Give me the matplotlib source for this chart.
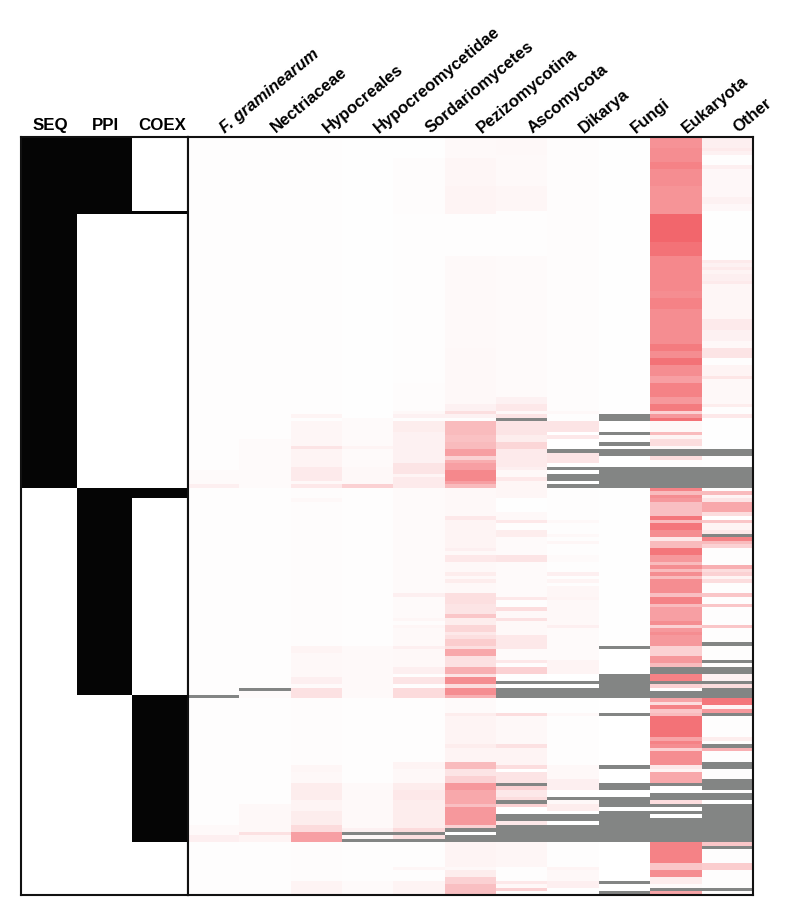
#!/usr/bin/env python3
"""Phylostratigraphy heatmap of gene groups split by SEQ / PPI / COEX evidence."""

import matplotlib
matplotlib.use("Agg")
import matplotlib.pyplot as plt
import numpy as np
from matplotlib.colors import LinearSegmentedColormap

plt.rcParams["font.family"] = ["Liberation Sans", "DejaVu Sans"]

NA = np.nan
N_ROWS = 216

evidence_labels = ["SEQ", "PPI", "COEX"]
taxa_labels = ["F. graminearum", "Nectriaceae", "Hypocreales", "Hypocreomycetidae",
               "Sordariomycetes", "Pezizomycotina", "Ascomycota", "Dikarya",
               "Fungi", "Eukaryota", "Other"]

# every column is a list of (row where the run ends, level); NA is a missing value
seq_member = [(100, 1), (216, 0)]
ppi_member = [(22, 1), (100, 0), (159, 1), (216, 0)]
coex_member = [(21, 0), (22, 1), (100, 0), (103, 1), (159, 0), (201, 1), (216, 0)]

f_graminearum = [(95, .008), (99, .02), (100, .07), (159, .008), (160, NA), (196, .008),
                 (199, .025), (201, .07), (216, .008)]
nectriaceae = [(86, .008), (100, .02), (157, .008), (158, NA), (160, .02), (190, .008),
               (198, .03), (199, .13), (201, .05), (216, .008)]
hypocreales = [(79, .008), (80, .05), (81, .01), (88, .04), (89, .12), (94, .05), (98, .09),
               (99, .03), (100, .1), (103, .012), (104, .03), (145, .012), (147, .05),
               (154, .03), (156, .07), (157, .02), (160, .13), (179, .012), (181, .04),
               (184, .03), (189, .08), (192, .05), (196, .08), (198, .16), (201, .42),
               (212, .012), (216, .05)]
hypocreomycetidae = [(80, .005), (88, .02), (89, .05), (94, .02), (99, .03), (100, .2),
                     (145, .008), (160, .025), (184, .01), (197, .025), (198, .06), (199, NA),
                     (200, .03), (201, NA), (212, .008), (216, .02)]
sordariomycetes = [(6, .006), (22, .012), (70, .01), (78, .015), (79, .03), (80, .06), (81, .01),
                   (84, .08), (93, .06), (96, .12), (97, .05), (100, .09), (130, .02),
                   (131, .07), (137, .02), (138, .04), (139, .015), (140, .04), (145, .025),
                   (146, .07), (151, .03), (153, .07), (154, .01), (156, .12), (157, .01),
                   (160, .16), (178, .01), (180, .05), (184, .03), (186, .08), (189, .1),
                   (197, .08), (198, .16), (199, NA), (200, .14), (201, NA), (208, .01),
                   (209, .04), (212, .01), (216, .05)]
pezizomycotina = [(6, .025), (14, .04), (22, .05), (34, .01), (60, .025), (76, .03), (78, .06),
                  (79, .14), (80, .06), (81, .01), (85, .3), (87, .27), (89, .3), (91, .42),
                  (92, .2), (93, .36), (95, .42), (98, .52), (99, .42), (100, .3), (108, .03),
                  (109, .1), (117, .05), (118, .07), (119, .03), (121, .1), (124, .03),
                  (125, .08), (126, .03), (127, .08), (130, .03), (133, .14), (136, .12),
                  (137, .25), (139, .08), (141, .18), (142, .1), (143, .14), (145, .22),
                  (146, .14), (148, .38), (151, .13), (153, .35), (154, .12), (156, .5),
                  (157, .15), (159, .5), (160, .35), (164, .02), (165, .08), (173, .05),
                  (174, .08), (178, .05), (180, .3), (182, .12), (184, .2), (186, .45),
                  (190, .38), (191, .28), (196, .45), (197, .2), (198, NA), (199, 0.0),
                  (201, NA), (208, .05), (209, .03), (211, .08), (213, .2), (216, .28)]
ascomycota = [(5, .03), (14, .025), (21, .04), (34, .01), (74, .022), (76, .06), (78, .1),
              (79, .03), (80, .12), (81, NA), (85, .12), (87, .08), (89, .18), (94, .09),
              (95, .07), (97, .03), (98, .1), (103, .04), (107, .005), (109, .03), (110, .1),
              (112, .01), (114, .08), (119, .02), (121, .12), (131, .02), (132, .1),
              (134, .01), (135, .15), (137, .03), (138, .13), (142, .03), (146, .1),
              (149, .02), (150, .1), (151, .01), (153, .2), (155, .005), (156, NA), (157, .0),
              (160, NA), (164, .005), (165, .15), (173, .03), (174, .13), (179, .05),
              (180, .15), (181, .0), (184, .12), (185, NA), (186, .2), (188, .1), (189, .15),
              (190, NA), (191, .2), (193, .0), (195, NA), (196, .1), (201, NA), (208, .04),
              (212, .01), (213, .1), (214, .03), (215, .2), (216, .01)]
dikarya = [(78, .012), (79, .03), (81, .01), (84, .12), (85, .0), (86, .1), (89, .0), (90, NA),
           (93, .12), (94, .0), (95, NA), (96, .0), (98, NA), (99, .0), (100, NA), (109, .01),
           (110, .03), (113, .01), (114, .03), (115, .01), (116, .04), (119, .01), (121, .02),
           (124, .01), (125, .07), (126, .01), (127, .05), (128, .01), (131, .04), (132, .05),
           (139, .03), (140, .07), (149, .02), (153, .05), (155, .0), (156, NA), (157, .0),
           (160, NA), (164, .005), (165, .03), (179, .01), (183, .03), (186, .07), (188, .0),
           (189, NA), (190, .03), (192, .08), (193, .0), (195, NA), (196, .0), (201, NA),
           (208, .01), (209, .05), (212, .03), (214, .07), (216, .005)]
fungi = [(79, .005), (81, NA), (84, .003), (85, NA), (87, .003), (88, NA), (89, .003), (91, NA),
         (94, .003), (100, NA), (145, .004), (146, NA), (153, .003), (160, NA), (164, .003),
         (165, NA), (179, .003), (180, NA), (184, .003), (186, NA), (188, .003), (191, NA),
         (192, .0), (201, NA), (212, .003), (213, NA), (215, .003), (216, NA)]
eukaryota = [(3, .48), (7, .5), (9, .55), (14, .5), (22, .47), (30, .67), (34, .62), (44, .52),
             (46, .5), (49, .55), (59, .5), (61, .58), (63, .5), (65, .62), (68, .5), (70, .42),
             (74, .55), (76, .45), (78, .58), (79, .2), (80, .45), (81, .62), (84, .03), (85, .3),
             (86, .05), (88, .15), (89, .03), (91, NA), (92, .15), (94, .01), (100, NA),
             (101, .55), (102, .3), (103, .5), (104, .45), (108, .28), (109, .6), (110, .3),
             (112, .6), (114, .5), (115, .1), (117, .3), (119, .6), (121, .45), (122, .3),
             (123, .5), (124, .3), (125, .5), (126, .3), (130, .5), (131, .28), (133, .55),
             (134, .3), (138, .42), (139, .5), (140, .2), (141, .45), (142, .5), (145, .45),
             (148, .2), (150, .45), (151, .3), (153, NA), (155, .55), (156, NA), (157, .2),
             (158, .0), (160, NA), (161, .4), (162, .15), (163, .55), (164, .25), (165, .3),
             (171, .62), (172, .4), (173, .55), (174, .5), (175, .2), (179, .5), (180, .1),
             (181, .05), (184, .38), (185, NA), (187, .0), (189, NA), (190, .15), (191, NA),
             (192, .0), (193, NA), (194, .0), (201, NA), (207, .55), (209, .25), (211, .5),
             (213, .08), (214, .02), (215, NA), (216, .4)]
other = [(3, .07), (4, .09), (5, .06), (8, .01), (9, .07), (17, .035), (19, .06), (21, .035),
         (35, .005), (36, .09), (37, .06), (38, .09), (39, .05), (41, .07), (42, .09), (52, .04),
         (55, .09), (58, .06), (60, .03), (63, .12), (65, .01), (68, .05), (69, .11), (76, .03),
         (77, .08), (79, .01), (80, .1), (89, .005), (91, NA), (94, .005), (100, NA), (101, .01),
         (102, .3), (103, .05), (104, .12), (107, .38), (108, .15), (109, .0), (110, .25),
         (112, .05), (113, .1), (114, NA), (115, .55), (116, .3), (117, .2), (122, .01),
         (123, .35), (124, .15), (125, .2), (126, .05), (127, .15), (130, .01), (131, .25),
         (133, .01), (134, .25), (139, .01), (140, .25), (144, .01), (145, NA), (149, .01),
         (150, NA), (151, .01), (153, NA), (155, .06), (156, NA), (157, .15), (160, NA),
         (162, .6), (163, .05), (164, .45), (165, NA), (171, .01), (172, .08), (173, .01),
         (174, NA), (175, .35), (178, .01), (180, NA), (183, .01), (186, NA), (187, .01),
         (189, NA), (190, .0), (201, NA), (202, .25), (203, NA), (207, .01), (209, .22),
         (214, .01), (215, NA), (216, .01)]


def expand(runs):
    column = np.full(N_ROWS, np.nan)
    start = 0
    for end, level in runs:
        column[start:end] = level
        start = end
    return column


membership = np.column_stack([expand(c) for c in (seq_member, ppi_member, coex_member)])
taxa_columns = (f_graminearum, nectriaceae, hypocreales, hypocreomycetidae, sordariomycetes,
                pezizomycotina, ascomycota, dikarya, fungi, eukaryota, other)
heat = np.column_stack([expand(c) for c in taxa_columns])

cmap = LinearSegmentedColormap.from_list("white_red", ["#ffffff", "#ed1c24"])
cmap.set_bad("#838584")

W, H = 791, 921
fig = plt.figure(figsize=(W / 100, H / 100), dpi=100)
top, bottom = 137.5, 895
ax_m = fig.add_axes([21 / W, 1 - bottom / H, 167 / W, (bottom - top) / H])
ax_h = fig.add_axes([188 / W, 1 - bottom / H, 565 / W, (bottom - top) / H])

ax_m.imshow(membership, cmap="gray_r", vmin=0, vmax=1.02, aspect="auto", interpolation="nearest")
ax_h.imshow(heat, cmap=cmap, vmin=0, vmax=1, aspect="auto", interpolation="nearest")

for ax in (ax_m, ax_h):
    ax.set_xticks([])
    ax.set_yticks([])
    for spine in ax.spines.values():
        spine.set_linewidth(1.5)
        spine.set_color("#111111")

header_nudge = [1, 0.5, 1.5]
for i, label in enumerate(evidence_labels):
    ax_m.annotate(label, xy=(i, -0.5), xytext=(header_nudge[i], 3), textcoords="offset points",
                  ha="center", va="bottom", fontsize=12.2, fontweight="bold",
                  annotation_clip=False)

for i, label in enumerate(taxa_labels):
    ax_h.annotate(label, xy=(i, -0.5), xytext=(8, 3), textcoords="offset points",
                  ha="left", va="baseline", rotation=39.5, rotation_mode="anchor",
                  fontsize=12, fontweight="bold", annotation_clip=False,
                  fontstyle="italic" if i == 0 else "normal")

fig.savefig("out.png", dpi=100)
